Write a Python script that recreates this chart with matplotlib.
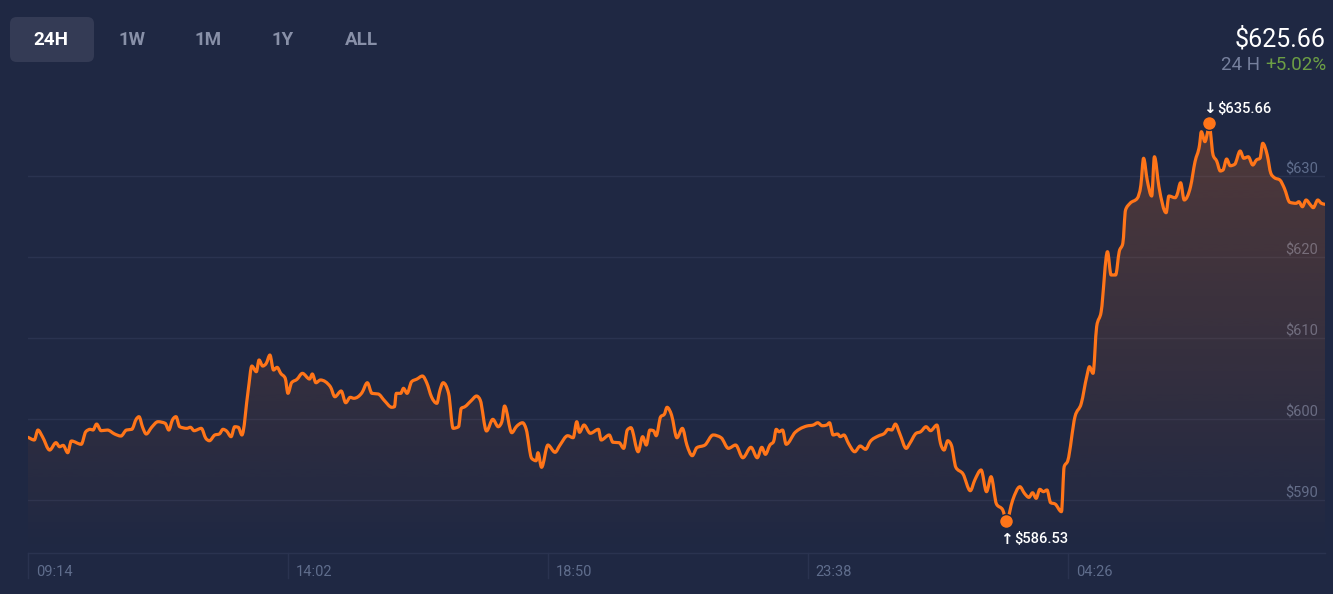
import numpy as np
import matplotlib
matplotlib.use("Agg")
import matplotlib.pyplot as plt
from matplotlib.patches import FancyBboxPatch, PathPatch
from matplotlib.path import Path

plt.rcParams['font.family'] = ['Roboto', 'DejaVu Sans']

# minutes since 09:14 and price in $
minutes = [0, 7, 11, 16, 24, 31, 35, 39, 44, 48, 59, 64, 69, 72, 76, 81, 88, 96, 103, 109,
           115, 120, 123, 127, 131, 137, 144, 152, 156, 160, 164, 168, 176, 180, 184, 192, 197, 201, 207, 212,
           216, 220, 225, 229, 233, 237, 244, 248, 253, 256, 260, 264, 268, 272, 276, 280, 285, 288, 292, 298,
           304, 312, 315, 319, 324, 335, 340, 347, 352, 357, 361, 370, 376, 381, 388, 395, 403, 406, 408, 413,
           416, 420, 425, 431, 437, 442, 447, 453, 456, 460, 466, 471, 477, 480, 484, 491, 497, 501, 508, 515,
           521, 525, 528, 536, 541, 548, 552, 558, 563, 565, 569, 576, 584, 589, 598, 604, 608, 611, 616, 623,
           632, 635, 644, 648, 655, 660, 664, 668, 676, 681, 685, 689, 693, 696, 701, 705, 708, 713, 719, 725,
           730, 736, 741, 750, 759, 768, 776, 784, 792, 801, 808, 813, 817, 822, 826, 829, 832, 836, 840, 850,
           855, 863, 870, 875, 880, 885, 888, 892, 897, 900, 904, 909, 916, 922, 928, 933, 942, 949, 953, 957,
           961, 966, 973, 977, 984, 989, 995, 1000, 1007, 1011, 1015, 1019, 1023, 1028, 1036, 1044, 1049, 1056, 1062, 1067,
           1073, 1080, 1084, 1091, 1099, 1104, 1109, 1113, 1117, 1121, 1125, 1129, 1133, 1138, 1145, 1148, 1152, 1160, 1167, 1173,
           1176, 1180, 1184, 1189, 1196, 1200, 1205, 1209, 1213, 1216, 1221, 1229, 1233, 1236, 1240, 1245, 1248, 1253, 1261, 1264,
           1271, 1273, 1277, 1281, 1288, 1293, 1298, 1300, 1304, 1307, 1309, 1310, 1313, 1317, 1321, 1324, 1328, 1332, 1337, 1343,
           1347, 1352, 1357, 1361, 1365, 1368, 1373, 1377, 1381, 1387, 1392, 1398, 1405, 1408, 1412, 1416, 1421, 1424, 1429, 1433,
           1437]
prices = [596.89, 596.56, 597.79, 596.97, 595.32, 596.23, 595.73, 595.90, 594.99, 596.44, 596.03, 597.58, 597.88, 597.79, 598.53, 597.71, 597.79, 597.30, 597.05, 597.79,
          597.88, 599.15, 599.44, 598.13, 597.30, 598.13, 598.82, 598.62, 597.79, 599.03, 599.44, 598.20, 598.00, 598.13, 597.71, 598.00, 596.77, 596.47, 597.18, 597.30,
          597.88, 597.67, 596.97, 598.20, 598.13, 597.18, 602.73, 605.69, 604.99, 606.44, 605.69, 606.03, 607.05, 605.20, 605.53, 604.79, 604.18, 602.32, 603.63, 604.05,
          604.79, 604.09, 604.71, 603.63, 603.97, 603.14, 601.90, 602.61, 601.16, 601.83, 601.71, 602.40, 603.63, 602.32, 602.24, 601.41, 600.60, 600.67, 602.32, 602.32,
          602.94, 602.32, 603.76, 604.09, 604.46, 603.56, 601.90, 601.09, 602.52, 603.63, 602.32, 598.00, 598.20, 600.47, 600.67, 601.41, 601.99, 601.50, 597.67, 599.11,
          598.20, 598.82, 600.76, 597.46, 598.20, 598.69, 597.88, 594.30, 594.00, 594.99, 593.19, 595.94, 595.04, 595.86, 597.09, 596.84, 598.82, 597.51, 598.41, 597.39,
          597.88, 596.56, 597.18, 596.28, 596.23, 595.53, 597.79, 598.08, 595.11, 596.97, 595.94, 597.79, 597.71, 597.09, 599.44, 599.73, 600.60, 599.65, 596.84, 598.00,
          595.94, 594.62, 595.61, 595.94, 597.18, 596.84, 595.53, 595.94, 594.37, 595.66, 594.37, 595.66, 594.79, 595.94, 596.35, 597.88, 597.58, 597.79, 596.03, 597.51,
          597.92, 598.29, 598.41, 598.69, 598.32, 598.41, 598.69, 597.18, 597.30, 596.97, 597.18, 596.15, 595.11, 595.82, 595.41, 596.35, 597.05, 597.39, 597.88, 597.79,
          598.53, 597.30, 595.53, 596.15, 597.39, 597.58, 598.20, 597.71, 598.41, 596.15, 595.32, 596.47, 595.94, 593.19, 592.36, 590.30, 591.62, 592.86, 590.18, 592.03,
          588.66, 587.92, 586.53, 589.15, 590.79, 589.98, 589.48, 590.05, 589.36, 590.47, 590.18, 590.39, 588.82, 588.66, 587.71, 593.26, 594.00, 599.44, 601.09, 604.37,
          605.61, 604.79, 610.55, 612.40, 619.81, 616.93, 616.93, 619.81, 620.84, 624.95, 625.78, 626.40, 628.04, 631.34, 628.66, 626.68, 631.53, 627.83, 624.62, 626.68,
          626.47, 626.81, 628.32, 626.19, 627.83, 630.92, 632.98, 634.62, 633.39, 634.62, 635.66, 634.71, 631.74, 631.00, 629.77, 629.89, 631.25, 630.42, 630.60, 632.24,
          631.34, 631.53, 630.51, 631.13, 631.34, 633.19, 631.74, 629.48, 628.94, 628.66, 627.63, 625.90, 625.78, 625.98, 625.36, 626.19, 625.57, 625.24, 626.19, 625.78,
          625.66]

tick_minutes = [0, 288, 576, 864, 1152]
tick_labels = ["09:14", "14:02", "18:50", "23:38", "04:26"]
price_levels = [590, 600, 610, 620, 630]
ranges = ["24H", "1W", "1M", "1Y", "ALL"]
last_price = "$625.66"
change_label = "+5.02%"

bg = "#1f2843"
orange = "#ff7519"
grid_c = "#2a3350"
muted = "#5f6d8c"


def monotone_path(x, y):
    # monotone cubic (like d3 curveMonotoneX) as bezier segments
    h = np.diff(x)
    s = np.diff(y) / h
    m = np.zeros_like(y)
    for i in range(1, len(x) - 1):
        pm = (s[i - 1] * h[i] + s[i] * h[i - 1]) / (h[i - 1] + h[i])
        m[i] = (np.sign(s[i - 1]) + np.sign(s[i])) * min(abs(s[i - 1]), abs(s[i]), 0.5 * abs(pm))
    m[0] = s[0]
    m[-1] = s[-1]
    verts = [(x[0], y[0])]
    codes = [Path.MOVETO]
    for i in range(len(x) - 1):
        d = h[i] / 3
        verts += [(x[i] + d, y[i] + m[i] * d), (x[i + 1] - d, y[i + 1] - m[i + 1] * d), (x[i + 1], y[i + 1])]
        codes += [Path.CURVE4] * 3
    return verts, codes


fig = plt.figure(figsize=(13.33, 5.94), dpi=100, facecolor=bg)
W, H = 1333, 594
ax = fig.add_axes([28 / W, (H - 553) / H, 1297 / W, (553 - 90) / H])
ax.set_facecolor(bg)
for sp in ax.spines.values():
    sp.set_visible(False)
ax.set_xticks([])
ax.set_yticks([])
ax.set_xlim(0, 1437)
ybot, ytop = 582.61, 639.77
ax.set_ylim(ybot, ytop)

t = np.array(minutes, dtype=float)
p = np.array(prices)

# grid lines (drawn a little under the labelled value, like the source)
for lv in price_levels:
    ax.axhline(lv - 0.85, color=grid_c, lw=1, zorder=1)
    ax.text(0.9946, lv, f"${lv}", transform=ax.get_yaxis_transform(), ha="right", va="center",
            color=muted, fontsize=10.5, zorder=2)

verts, codes = monotone_path(t, p)
line_path = Path(verts, codes)
area_path = Path(verts + [(t[-1], ybot), (t[0], ybot), (t[0], p[0])],
                 codes + [Path.LINETO, Path.LINETO, Path.CLOSEPOLY])

# gradient area under the line
grad = np.zeros((256, 1, 4))
grad[..., :3] = matplotlib.colors.to_rgb(orange)
grad[:, 0, 3] = np.linspace(0.24, 0.0, 256)
img = ax.imshow(grad, aspect="auto", extent=[0, 1437, ybot, ytop], origin="upper", zorder=2)
img.set_clip_path(area_path, transform=ax.transData)

ax.add_patch(PathPatch(line_path, facecolor="none", edgecolor=orange, lw=2.3, capstyle="round",
                       joinstyle="round", zorder=3))

# extremes
imax, imin = int(np.argmax(p)), int(np.argmin(p))
ax.plot([t[imax], t[imin]], [p[imax], p[imin]], "o", color=orange, ms=10, mec=bg, mew=1, zorder=4)
for i, arrow, dy, va in [(imax, "\u2193", 5, "bottom"), (imin, "\u2191", -8, "top")]:
    ax.annotate(arrow, (t[i], p[i]), xytext=(-4.5, dy), textcoords="offset points", ha="left", va=va,
                color="white", fontsize=11, fontweight="bold", family="DejaVu Sans", zorder=5)
    ax.annotate(f"${p[i]:.2f}", (t[i], p[i]), xytext=(5.5, dy), textcoords="offset points", ha="left", va=va,
                color="white", fontsize=10.5, fontweight="medium", zorder=5)

# bottom axis line and time ticks
fig.add_artist(plt.Line2D([28 / W, 1325 / W], [(H - 553) / H] * 2, color=grid_c, lw=1))
for tm, lab in zip(tick_minutes, tick_labels):
    xf = (28 + tm * 1297 / 1437) / W
    fig.add_artist(plt.Line2D([xf, xf], [(H - 553) / H, (H - 578) / H], color=grid_c, lw=1))
    fig.text(xf + 8 / W, (H - 572) / H, lab, ha="left", va="center", color=muted, fontsize=10.5)

# range buttons
fig.add_artist(FancyBboxPatch((10 / W, (H - 62) / H), 84 / W, 45 / H,
                              boxstyle="round,pad=0,rounding_size=0.005", transform=fig.transFigure,
                              facecolor="#343b55", edgecolor="none", mutation_aspect=W / H))
btn_x = [51, 132, 208, 283, 361]
for bx, lab in zip(btn_x, ranges):
    fig.text(bx / W, (H - 40) / H, lab, ha="center", va="center", fontsize=13.5, fontweight="bold",
             color="white" if lab == "24H" else "#8890a8")

# headline price
fig.text(1326 / W, (H - 39) / H, last_price, ha="right", va="center", color="white", fontsize=18)
tx = fig.text(1326 / W, (H - 65) / H, change_label, ha="right", va="center", color="#6c9e45", fontsize=13.5)
fig.canvas.draw()
bb = tx.get_window_extent()
fig.text((bb.x0 - 5) / W, (H - 65) / H, "24 H", ha="right", va="center", color="#76809d", fontsize=13.5)

fig.savefig("out.png", dpi=100, facecolor=bg)
